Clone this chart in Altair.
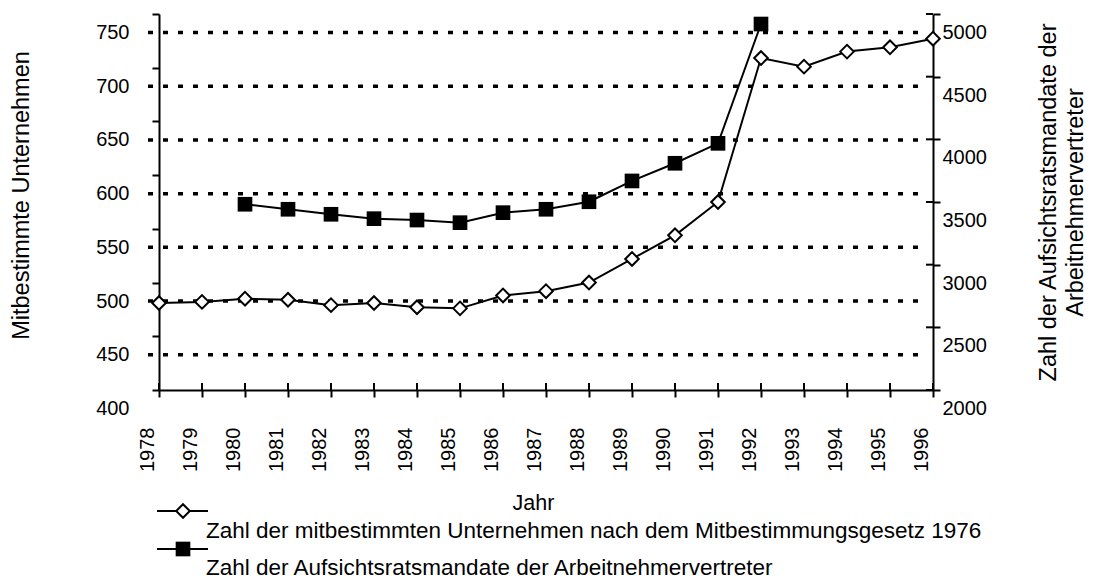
import altair as alt
import pandas as pd

# ---------------- data ----------------
years = [1978, 1979, 1980, 1981, 1982, 1983, 1984, 1985, 1986, 1987,
         1988, 1989, 1990, 1991, 1992, 1993, 1994, 1995, 1996]
companies = [481, 482, 485, 484, 479, 481, 477, 476, 488, 492,
             500, 522, 544, 575, 709, 701, 715, 719, 727]
mandate_years = [1980, 1981, 1982, 1983, 1984, 1985, 1986, 1987, 1988,
                 1989, 1990, 1991, 1992]
mandates = [3482, 3442, 3402, 3367, 3356, 3335, 3415, 3442, 3502,
            3668, 3809, 3968, 4920]
left_ticks = [400, 450, 500, 550, 600, 650, 700, 750]
grid_values = [450, 500, 550, 600, 650, 700, 750]
right_ticks = [2000, 2500, 3000, 3500, 4000, 4500, 5000]
left_title = "Mitbestimmte Unternehmen"
right_title = ["Zahl der Aufsichtsratsmandate der", "Arbeitnehmervertreter"]
x_title = "Jahr"
series_names = [
    "Zahl der mitbestimmten Unternehmen nach dem Mitbestimmungsgesetz 1976",
    "Zahl der Aufsichtsratsmandate der Arbeitnehmervertreter",
]

# ---------------- layout ----------------
W, H = 774, 376
FONT = "Liberation Sans"

df1 = pd.DataFrame({"year": years, "value": companies})
df2 = pd.DataFrame({"year": mandate_years, "value": mandates})
grid_df = pd.DataFrame({"v": grid_values})
rt_df = pd.DataFrame({"v": right_ticks})
xt_df = pd.DataFrame({"year": years})
leg1_df = pd.DataFrame({"t": [series_names[0]]})
leg2_df = pd.DataFrame({"t": [series_names[1]]})

xscale = alt.Scale(domain=[years[0], years[-1]], nice=False, zero=False)
yl = alt.Scale(domain=[left_ticks[0], left_ticks[-1]], nice=False, zero=False)
yr = alt.Scale(domain=[right_ticks[0], right_ticks[-1]], nice=False, zero=False)

x_axis = alt.Axis(
    orient="bottom", values=years, format="d", labelAngle=270, labelOffset=-12,
    labelPadding=30, tickSize=7, tickWidth=2, tickColor="black",
    domain=True, domainWidth=2, domainColor="black", ticks=True, labels=True,
    labelColor="black", labelFont=FONT, labelFontSize=20,
    labelOverlap=False, labelFlush=False, grid=False,
    title=x_title, titleFont=FONT, titleFontSize=21.5, titleFontWeight="normal",
    titleColor="black", titleX=374, titleY=113, titleAlign="center",
    titleBaseline="middle",
)
left_axis = alt.Axis(
    orient="left", values=left_ticks, format="d", labelOffset=18.5, labelPadding=23,
    tickSize=7, tickWidth=2, tickColor="black",
    domain=True, domainWidth=2, domainColor="black", ticks=True, labels=True,
    labelColor="black", labelFont=FONT, labelFontSize=20,
    labelOverlap=False, grid=False,
    title=left_title, titleFont=FONT, titleFontSize=23.5, titleFontWeight="normal",
    titleColor="black", titleAngle=270, titleX=-137.5, titleY=181,
    titleAlign="center", titleBaseline="middle",
)
right_axis = alt.Axis(
    orient="right", values=right_ticks, format="d", labelOffset=18.5, labelPadding=2,
    tickSize=7, tickWidth=2, tickColor="black",
    domain=True, domainWidth=2, domainColor="black", ticks=True, labels=True,
    labelColor="black", labelFont=FONT, labelFontSize=20,
    labelOverlap=False, grid=False,
    title=right_title, titleFont=FONT, titleFontSize=23.5, titleFontWeight="normal",
    titleColor="black", titleAngle=270, titleX=115, titleY=188,
    titleAlign="center", titleBaseline="middle", titleLineHeight=27,
)

grid = alt.Chart(grid_df).mark_rule(
    strokeDash=[5, 10], strokeWidth=3.5, color="black", yOffset=18.5
).encode(
    y=alt.Y("v:Q", scale=yl, axis=None),
    x=alt.value(-11), x2=alt.value(W - 11),
)

line1 = alt.Chart(df1).mark_line(color="black", strokeWidth=2).encode(
    x=alt.X("year:Q", scale=xscale, axis=x_axis),
    y=alt.Y("value:Q", scale=yl, axis=left_axis),
)
pts1 = alt.Chart(df1).mark_point(
    shape="diamond", filled=True, fill="white", stroke="black",
    strokeWidth=2, size=185, opacity=1,
).encode(
    x=alt.X("year:Q", scale=xscale, axis=None),
    y=alt.Y("value:Q", scale=yl, axis=None),
)
xticks_in = alt.Chart(xt_df).mark_rule(color="black", strokeWidth=2).encode(
    x=alt.X("year:Q", scale=xscale, axis=None),
    y=alt.value(H - 7), y2=alt.value(H),
)

line2 = alt.Chart(df2).mark_line(color="black", strokeWidth=2).encode(
    x=alt.X("year:Q", scale=xscale, axis=None),
    y=alt.Y("value:Q", scale=yr, axis=right_axis),
)
pts2 = alt.Chart(df2).mark_point(
    shape="square", filled=True, color="black", size=215, opacity=1,
).encode(
    x=alt.X("year:Q", scale=xscale, axis=None),
    y=alt.Y("value:Q", scale=yr, axis=None),
)
rticks_in = alt.Chart(rt_df).mark_rule(color="black", strokeWidth=2).encode(
    y=alt.Y("v:Q", scale=yr, axis=None),
    x=alt.value(W - 7), x2=alt.value(W),
)

# ---------------- custom legend ----------------
leg_line1 = alt.Chart(leg1_df).mark_rule(color="black", strokeWidth=2).encode(
    x=alt.value(-2), x2=alt.value(49), y=alt.value(497))
leg_sym1 = alt.Chart(leg1_df).mark_point(
    shape="diamond", filled=True, fill="white", stroke="black",
    strokeWidth=2, size=185, opacity=1).encode(x=alt.value(24), y=alt.value(497))
leg_txt1 = alt.Chart(leg1_df).mark_text(
    align="left", baseline="middle", font=FONT, fontSize=22.5, color="black"
).encode(x=alt.value(47), y=alt.value(517), text="t:N")

leg_line2 = alt.Chart(leg2_df).mark_rule(color="black", strokeWidth=2).encode(
    x=alt.value(-2), x2=alt.value(49), y=alt.value(535))
leg_sym2 = alt.Chart(leg2_df).mark_point(
    shape="square", filled=True, color="black", size=215, opacity=1
).encode(x=alt.value(24), y=alt.value(535))
leg_txt2 = alt.Chart(leg2_df).mark_text(
    align="left", baseline="middle", font=FONT, fontSize=22.5, color="black"
).encode(x=alt.value(47), y=alt.value(554), text="t:N")

chart = alt.layer(
    grid, line1, pts1, xticks_in, line2, pts2, rticks_in,
    leg_line1, leg_sym1, leg_txt1, leg_line2, leg_sym2, leg_txt2,
).resolve_scale(y="independent").resolve_axis(
    y="independent", x="independent"
).properties(
    width=W, height=H,
    autosize=alt.AutoSizeParams(type="none"),
    padding={"left": 151, "top": 6, "right": 155, "bottom": 189},
    background="white",
).configure_view(strokeWidth=0)

chart.save("out.html", embed_options={"renderer": "svg", "actions": False})
